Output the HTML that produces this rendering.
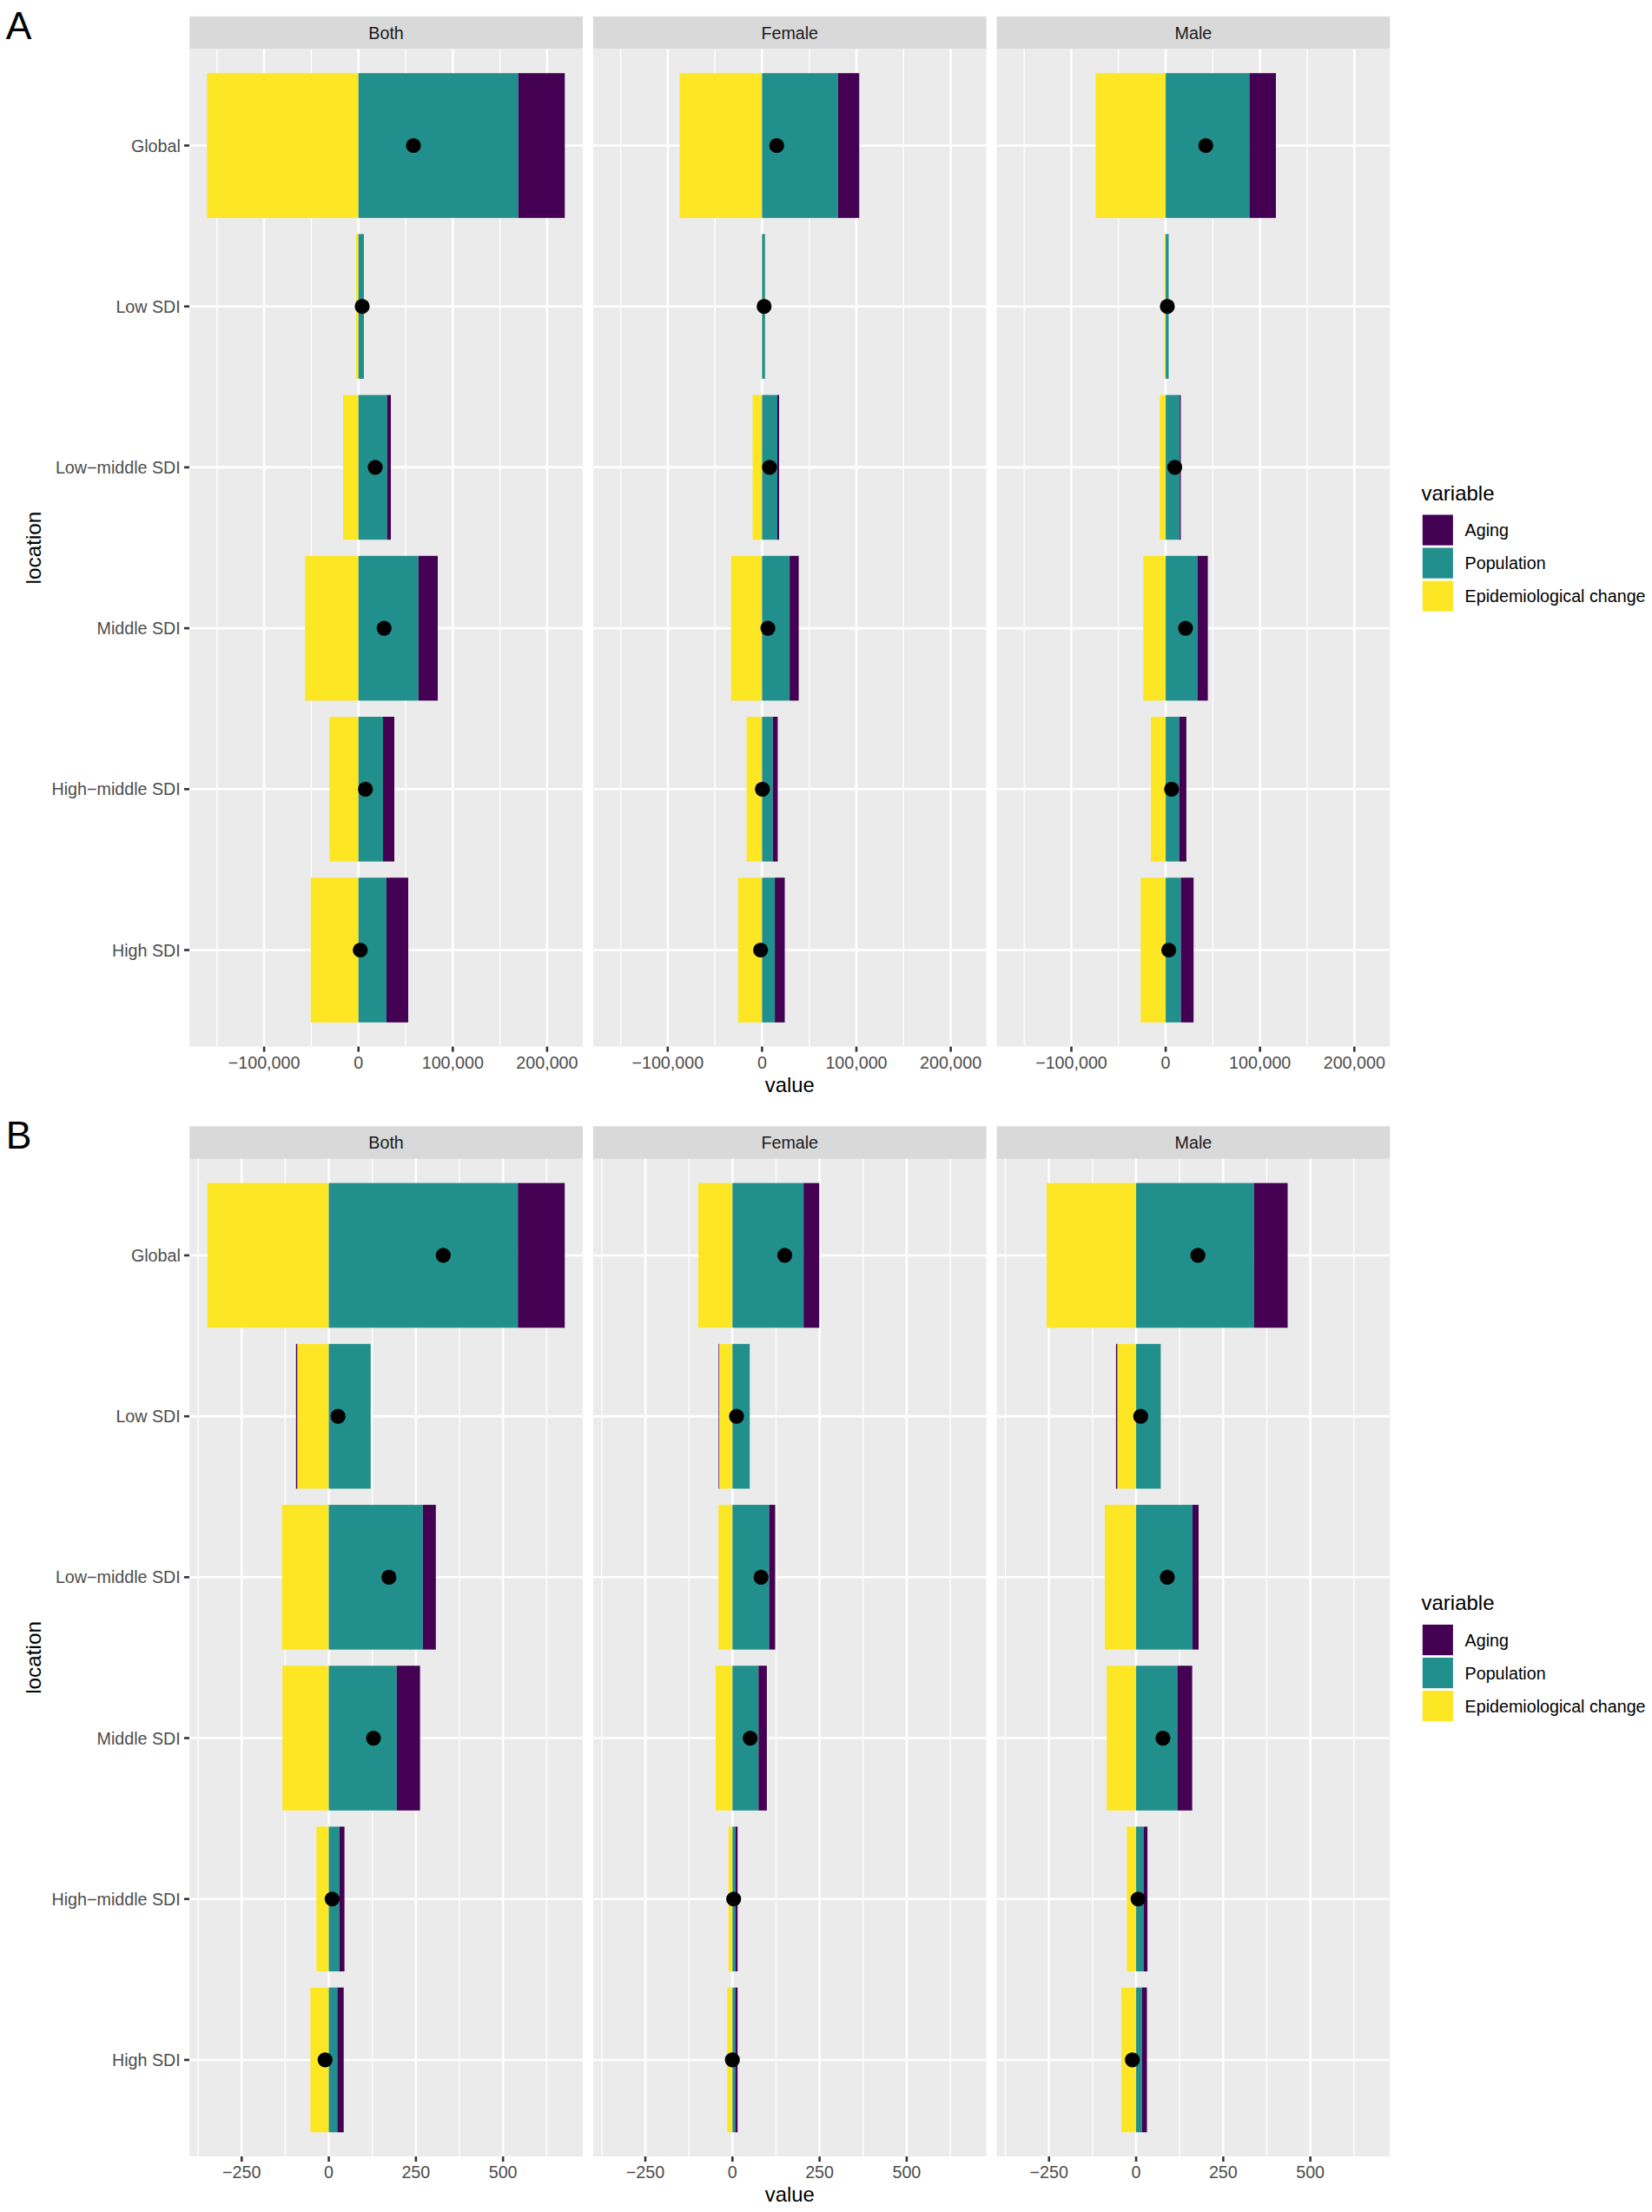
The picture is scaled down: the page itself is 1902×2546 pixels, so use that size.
<!DOCTYPE html>
<html lang="en"><head><meta charset="utf-8"><title>Figure</title>
<style>
html,body{margin:0;padding:0;background:#fff}
svg{display:block}
text{font-family:"Liberation Sans",Arial,Helvetica,sans-serif}
.ax{font-size:19.7px;fill:#4D4D4D}
.st{font-size:19.7px;fill:#1A1A1A}
.ti{font-size:23.8px;fill:#000}
.lg{font-size:19.7px;fill:#000}
.tag{font-size:44.5px;fill:#000}
</style></head>
<body>
<svg width="1902" height="2546" viewBox="0 0 1902 2546">
<rect x="0" y="0" width="1902" height="2546" fill="#fff"/>
<g>
<text class="tag" x="6.7" y="45">A</text>
<g>
<rect x="218.2" y="18.85" width="452.7" height="37.55" fill="#D9D9D9"/>
<text class="st" text-anchor="middle" x="444.55" y="44.75">Both</text>
<rect x="218.2" y="56.4" width="452.7" height="1148.2" fill="#EBEBEB"/>
<line x1="249.8" x2="249.8" y1="56.4" y2="1204.6" stroke="#fff" stroke-width="1.35"/>
<line x1="358.4" x2="358.4" y1="56.4" y2="1204.6" stroke="#fff" stroke-width="1.35"/>
<line x1="467" x2="467" y1="56.4" y2="1204.6" stroke="#fff" stroke-width="1.35"/>
<line x1="575.6" x2="575.6" y1="56.4" y2="1204.6" stroke="#fff" stroke-width="1.35"/>
<line x1="304.1" x2="304.1" y1="56.4" y2="1204.6" stroke="#fff" stroke-width="2.6"/>
<line x1="412.7" x2="412.7" y1="56.4" y2="1204.6" stroke="#fff" stroke-width="2.6"/>
<line x1="521.3" x2="521.3" y1="56.4" y2="1204.6" stroke="#fff" stroke-width="2.6"/>
<line x1="629.9" x2="629.9" y1="56.4" y2="1204.6" stroke="#fff" stroke-width="2.6"/>
<line x1="218.2" x2="670.9" y1="167.5" y2="167.5" stroke="#fff" stroke-width="2.6"/>
<line x1="218.2" x2="670.9" y1="352.7" y2="352.7" stroke="#fff" stroke-width="2.6"/>
<line x1="218.2" x2="670.9" y1="537.9" y2="537.9" stroke="#fff" stroke-width="2.6"/>
<line x1="218.2" x2="670.9" y1="723.1" y2="723.1" stroke="#fff" stroke-width="2.6"/>
<line x1="218.2" x2="670.9" y1="908.3" y2="908.3" stroke="#fff" stroke-width="2.6"/>
<line x1="218.2" x2="670.9" y1="1093.5" y2="1093.5" stroke="#fff" stroke-width="2.6"/>
<rect x="238.25" y="84.2" width="174.45" height="166.6" fill="#FDE725"/>
<rect x="412.7" y="84.2" width="184.05" height="166.6" fill="#21908C"/>
<rect x="596.75" y="84.2" width="53.5" height="166.6" fill="#440154"/>
<rect x="410" y="269.4" width="2.7" height="166.6" fill="#FDE725"/>
<rect x="412.7" y="269.4" width="6.3" height="166.6" fill="#21908C"/>
<rect x="395" y="454.6" width="17.7" height="166.6" fill="#FDE725"/>
<rect x="412.7" y="454.6" width="33.05" height="166.6" fill="#21908C"/>
<rect x="445.75" y="454.6" width="4.25" height="166.6" fill="#440154"/>
<rect x="351.25" y="639.8" width="61.45" height="166.6" fill="#FDE725"/>
<rect x="412.7" y="639.8" width="69.05" height="166.6" fill="#21908C"/>
<rect x="481.75" y="639.8" width="22.25" height="166.6" fill="#440154"/>
<rect x="379.25" y="825" width="33.45" height="166.6" fill="#FDE725"/>
<rect x="412.7" y="825" width="28.3" height="166.6" fill="#21908C"/>
<rect x="441" y="825" width="13" height="166.6" fill="#440154"/>
<rect x="357.75" y="1010.2" width="54.95" height="166.6" fill="#FDE725"/>
<rect x="412.7" y="1010.2" width="32.3" height="166.6" fill="#21908C"/>
<rect x="445" y="1010.2" width="25" height="166.6" fill="#440154"/>
<circle cx="476" cy="167.5" r="8.6" fill="#000"/>
<circle cx="417" cy="352.7" r="8.6" fill="#000"/>
<circle cx="432" cy="537.9" r="8.6" fill="#000"/>
<circle cx="442.25" cy="723.1" r="8.6" fill="#000"/>
<circle cx="420.75" cy="908.3" r="8.6" fill="#000"/>
<circle cx="414.75" cy="1093.5" r="8.6" fill="#000"/>
<line x1="304.1" x2="304.1" y1="1204.6" y2="1210.6" stroke="#333" stroke-width="2.6"/>
<text class="ax" text-anchor="middle" x="304.1" y="1229.6">−100,000</text>
<line x1="412.7" x2="412.7" y1="1204.6" y2="1210.6" stroke="#333" stroke-width="2.6"/>
<text class="ax" text-anchor="middle" x="412.7" y="1229.6">0</text>
<line x1="521.3" x2="521.3" y1="1204.6" y2="1210.6" stroke="#333" stroke-width="2.6"/>
<text class="ax" text-anchor="middle" x="521.3" y="1229.6">100,000</text>
<line x1="629.9" x2="629.9" y1="1204.6" y2="1210.6" stroke="#333" stroke-width="2.6"/>
<text class="ax" text-anchor="middle" x="629.9" y="1229.6">200,000</text>
</g>
<g>
<rect x="682.9" y="18.85" width="452.7" height="37.55" fill="#D9D9D9"/>
<text class="st" text-anchor="middle" x="909.25" y="44.75">Female</text>
<rect x="682.9" y="56.4" width="452.7" height="1148.2" fill="#EBEBEB"/>
<line x1="714.5" x2="714.5" y1="56.4" y2="1204.6" stroke="#fff" stroke-width="1.35"/>
<line x1="823.1" x2="823.1" y1="56.4" y2="1204.6" stroke="#fff" stroke-width="1.35"/>
<line x1="931.7" x2="931.7" y1="56.4" y2="1204.6" stroke="#fff" stroke-width="1.35"/>
<line x1="1040.3" x2="1040.3" y1="56.4" y2="1204.6" stroke="#fff" stroke-width="1.35"/>
<line x1="768.8" x2="768.8" y1="56.4" y2="1204.6" stroke="#fff" stroke-width="2.6"/>
<line x1="877.4" x2="877.4" y1="56.4" y2="1204.6" stroke="#fff" stroke-width="2.6"/>
<line x1="986" x2="986" y1="56.4" y2="1204.6" stroke="#fff" stroke-width="2.6"/>
<line x1="1094.6" x2="1094.6" y1="56.4" y2="1204.6" stroke="#fff" stroke-width="2.6"/>
<line x1="682.9" x2="1135.6" y1="167.5" y2="167.5" stroke="#fff" stroke-width="2.6"/>
<line x1="682.9" x2="1135.6" y1="352.7" y2="352.7" stroke="#fff" stroke-width="2.6"/>
<line x1="682.9" x2="1135.6" y1="537.9" y2="537.9" stroke="#fff" stroke-width="2.6"/>
<line x1="682.9" x2="1135.6" y1="723.1" y2="723.1" stroke="#fff" stroke-width="2.6"/>
<line x1="682.9" x2="1135.6" y1="908.3" y2="908.3" stroke="#fff" stroke-width="2.6"/>
<line x1="682.9" x2="1135.6" y1="1093.5" y2="1093.5" stroke="#fff" stroke-width="2.6"/>
<rect x="782.5" y="84.2" width="94.9" height="166.6" fill="#FDE725"/>
<rect x="877.4" y="84.2" width="87.35" height="166.6" fill="#21908C"/>
<rect x="964.75" y="84.2" width="24.5" height="166.6" fill="#440154"/>
<rect x="876.9" y="269.4" width="0.5" height="166.6" fill="#FDE725"/>
<rect x="877.4" y="269.4" width="3.35" height="166.6" fill="#21908C"/>
<rect x="866.5" y="454.6" width="10.9" height="166.6" fill="#FDE725"/>
<rect x="877.4" y="454.6" width="17.6" height="166.6" fill="#21908C"/>
<rect x="895" y="454.6" width="2" height="166.6" fill="#440154"/>
<rect x="841.7" y="639.8" width="35.7" height="166.6" fill="#FDE725"/>
<rect x="877.4" y="639.8" width="31.75" height="166.6" fill="#21908C"/>
<rect x="909.15" y="639.8" width="10.45" height="166.6" fill="#440154"/>
<rect x="859.6" y="825" width="17.8" height="166.6" fill="#FDE725"/>
<rect x="877.4" y="825" width="12.35" height="166.6" fill="#21908C"/>
<rect x="889.75" y="825" width="5.65" height="166.6" fill="#440154"/>
<rect x="849.8" y="1010.2" width="27.6" height="166.6" fill="#FDE725"/>
<rect x="877.4" y="1010.2" width="14.7" height="166.6" fill="#21908C"/>
<rect x="892.1" y="1010.2" width="11.4" height="166.6" fill="#440154"/>
<circle cx="894.25" cy="167.5" r="8.6" fill="#000"/>
<circle cx="879.75" cy="352.7" r="8.6" fill="#000"/>
<circle cx="886" cy="537.9" r="8.6" fill="#000"/>
<circle cx="884.1" cy="723.1" r="8.6" fill="#000"/>
<circle cx="877.8" cy="908.3" r="8.6" fill="#000"/>
<circle cx="875.7" cy="1093.5" r="8.6" fill="#000"/>
<line x1="768.8" x2="768.8" y1="1204.6" y2="1210.6" stroke="#333" stroke-width="2.6"/>
<text class="ax" text-anchor="middle" x="768.8" y="1229.6">−100,000</text>
<line x1="877.4" x2="877.4" y1="1204.6" y2="1210.6" stroke="#333" stroke-width="2.6"/>
<text class="ax" text-anchor="middle" x="877.4" y="1229.6">0</text>
<line x1="986" x2="986" y1="1204.6" y2="1210.6" stroke="#333" stroke-width="2.6"/>
<text class="ax" text-anchor="middle" x="986" y="1229.6">100,000</text>
<line x1="1094.6" x2="1094.6" y1="1204.6" y2="1210.6" stroke="#333" stroke-width="2.6"/>
<text class="ax" text-anchor="middle" x="1094.6" y="1229.6">200,000</text>
</g>
<g>
<rect x="1147.6" y="18.85" width="452.7" height="37.55" fill="#D9D9D9"/>
<text class="st" text-anchor="middle" x="1373.95" y="44.75">Male</text>
<rect x="1147.6" y="56.4" width="452.7" height="1148.2" fill="#EBEBEB"/>
<line x1="1179.2" x2="1179.2" y1="56.4" y2="1204.6" stroke="#fff" stroke-width="1.35"/>
<line x1="1287.8" x2="1287.8" y1="56.4" y2="1204.6" stroke="#fff" stroke-width="1.35"/>
<line x1="1396.4" x2="1396.4" y1="56.4" y2="1204.6" stroke="#fff" stroke-width="1.35"/>
<line x1="1505" x2="1505" y1="56.4" y2="1204.6" stroke="#fff" stroke-width="1.35"/>
<line x1="1233.5" x2="1233.5" y1="56.4" y2="1204.6" stroke="#fff" stroke-width="2.6"/>
<line x1="1342.1" x2="1342.1" y1="56.4" y2="1204.6" stroke="#fff" stroke-width="2.6"/>
<line x1="1450.7" x2="1450.7" y1="56.4" y2="1204.6" stroke="#fff" stroke-width="2.6"/>
<line x1="1559.3" x2="1559.3" y1="56.4" y2="1204.6" stroke="#fff" stroke-width="2.6"/>
<line x1="1147.6" x2="1600.3" y1="167.5" y2="167.5" stroke="#fff" stroke-width="2.6"/>
<line x1="1147.6" x2="1600.3" y1="352.7" y2="352.7" stroke="#fff" stroke-width="2.6"/>
<line x1="1147.6" x2="1600.3" y1="537.9" y2="537.9" stroke="#fff" stroke-width="2.6"/>
<line x1="1147.6" x2="1600.3" y1="723.1" y2="723.1" stroke="#fff" stroke-width="2.6"/>
<line x1="1147.6" x2="1600.3" y1="908.3" y2="908.3" stroke="#fff" stroke-width="2.6"/>
<line x1="1147.6" x2="1600.3" y1="1093.5" y2="1093.5" stroke="#fff" stroke-width="2.6"/>
<rect x="1261.5" y="84.2" width="80.6" height="166.6" fill="#FDE725"/>
<rect x="1342.1" y="84.2" width="96.4" height="166.6" fill="#21908C"/>
<rect x="1438.5" y="84.2" width="30.5" height="166.6" fill="#440154"/>
<rect x="1340.75" y="269.4" width="1.35" height="166.6" fill="#FDE725"/>
<rect x="1342.1" y="269.4" width="3.4" height="166.6" fill="#21908C"/>
<rect x="1335.25" y="454.6" width="6.85" height="166.6" fill="#FDE725"/>
<rect x="1342.1" y="454.6" width="16.15" height="166.6" fill="#21908C"/>
<rect x="1358.25" y="454.6" width="1.25" height="166.6" fill="#440154"/>
<rect x="1316.3" y="639.8" width="25.8" height="166.6" fill="#FDE725"/>
<rect x="1342.1" y="639.8" width="36.6" height="166.6" fill="#21908C"/>
<rect x="1378.7" y="639.8" width="11.9" height="166.6" fill="#440154"/>
<rect x="1325" y="825" width="17.1" height="166.6" fill="#FDE725"/>
<rect x="1342.1" y="825" width="15.7" height="166.6" fill="#21908C"/>
<rect x="1357.8" y="825" width="8.1" height="166.6" fill="#440154"/>
<rect x="1313.35" y="1010.2" width="28.75" height="166.6" fill="#FDE725"/>
<rect x="1342.1" y="1010.2" width="17.5" height="166.6" fill="#21908C"/>
<rect x="1359.6" y="1010.2" width="14.6" height="166.6" fill="#440154"/>
<circle cx="1388.25" cy="167.5" r="8.6" fill="#000"/>
<circle cx="1344" cy="352.7" r="8.6" fill="#000"/>
<circle cx="1352.5" cy="537.9" r="8.6" fill="#000"/>
<circle cx="1365" cy="723.1" r="8.6" fill="#000"/>
<circle cx="1348.9" cy="908.3" r="8.6" fill="#000"/>
<circle cx="1345.6" cy="1093.5" r="8.6" fill="#000"/>
<line x1="1233.5" x2="1233.5" y1="1204.6" y2="1210.6" stroke="#333" stroke-width="2.6"/>
<text class="ax" text-anchor="middle" x="1233.5" y="1229.6">−100,000</text>
<line x1="1342.1" x2="1342.1" y1="1204.6" y2="1210.6" stroke="#333" stroke-width="2.6"/>
<text class="ax" text-anchor="middle" x="1342.1" y="1229.6">0</text>
<line x1="1450.7" x2="1450.7" y1="1204.6" y2="1210.6" stroke="#333" stroke-width="2.6"/>
<text class="ax" text-anchor="middle" x="1450.7" y="1229.6">100,000</text>
<line x1="1559.3" x2="1559.3" y1="1204.6" y2="1210.6" stroke="#333" stroke-width="2.6"/>
<text class="ax" text-anchor="middle" x="1559.3" y="1229.6">200,000</text>
</g>
<line x1="212" x2="218" y1="167.5" y2="167.5" stroke="#333" stroke-width="2.6"/>
<text class="ax" text-anchor="end" x="207.8" y="174.5">Global</text>
<line x1="212" x2="218" y1="352.7" y2="352.7" stroke="#333" stroke-width="2.6"/>
<text class="ax" text-anchor="end" x="207.8" y="359.7">Low SDI</text>
<line x1="212" x2="218" y1="537.9" y2="537.9" stroke="#333" stroke-width="2.6"/>
<text class="ax" text-anchor="end" x="207.8" y="544.9">Low−middle SDI</text>
<line x1="212" x2="218" y1="723.1" y2="723.1" stroke="#333" stroke-width="2.6"/>
<text class="ax" text-anchor="end" x="207.8" y="730.1">Middle SDI</text>
<line x1="212" x2="218" y1="908.3" y2="908.3" stroke="#333" stroke-width="2.6"/>
<text class="ax" text-anchor="end" x="207.8" y="915.3">High−middle SDI</text>
<line x1="212" x2="218" y1="1093.5" y2="1093.5" stroke="#333" stroke-width="2.6"/>
<text class="ax" text-anchor="end" x="207.8" y="1100.5">High SDI</text>
<text class="ti" text-anchor="middle" x="909.3" y="1256.7">value</text>
<text class="ti" style="font-size:24.3px" text-anchor="middle" transform="translate(46.9,630.5) rotate(-90)">location</text>
<text class="ti" style="font-size:24px" x="1636.5" y="575.7">variable</text>
<rect x="1637.8" y="592.5" width="35.1" height="35.2" fill="#440154"/>
<text class="lg" x="1686.6" y="617.2">Aging</text>
<rect x="1637.8" y="630.5" width="35.1" height="35.2" fill="#21908C"/>
<text class="lg" x="1686.6" y="655.2">Population</text>
<rect x="1637.8" y="668.5" width="35.1" height="35.2" fill="#FDE725"/>
<text class="lg" x="1686.6" y="693.2">Epidemiological change</text>
</g>
<g>
<text class="tag" x="6.7" y="1322.15">B</text>
<g>
<rect x="218.2" y="1296.3" width="452.7" height="37.55" fill="#D9D9D9"/>
<text class="st" text-anchor="middle" x="444.55" y="1322.2">Both</text>
<rect x="218.2" y="1333.85" width="452.7" height="1148.2" fill="#EBEBEB"/>
<line x1="228.1" x2="228.1" y1="1333.85" y2="2482.05" stroke="#fff" stroke-width="1.35"/>
<line x1="328.4" x2="328.4" y1="1333.85" y2="2482.05" stroke="#fff" stroke-width="1.35"/>
<line x1="428.7" x2="428.7" y1="1333.85" y2="2482.05" stroke="#fff" stroke-width="1.35"/>
<line x1="529" x2="529" y1="1333.85" y2="2482.05" stroke="#fff" stroke-width="1.35"/>
<line x1="629.3" x2="629.3" y1="1333.85" y2="2482.05" stroke="#fff" stroke-width="1.35"/>
<line x1="278.25" x2="278.25" y1="1333.85" y2="2482.05" stroke="#fff" stroke-width="2.6"/>
<line x1="378.55" x2="378.55" y1="1333.85" y2="2482.05" stroke="#fff" stroke-width="2.6"/>
<line x1="478.85" x2="478.85" y1="1333.85" y2="2482.05" stroke="#fff" stroke-width="2.6"/>
<line x1="579.15" x2="579.15" y1="1333.85" y2="2482.05" stroke="#fff" stroke-width="2.6"/>
<line x1="218.2" x2="670.9" y1="1444.95" y2="1444.95" stroke="#fff" stroke-width="2.6"/>
<line x1="218.2" x2="670.9" y1="1630.15" y2="1630.15" stroke="#fff" stroke-width="2.6"/>
<line x1="218.2" x2="670.9" y1="1815.35" y2="1815.35" stroke="#fff" stroke-width="2.6"/>
<line x1="218.2" x2="670.9" y1="2000.55" y2="2000.55" stroke="#fff" stroke-width="2.6"/>
<line x1="218.2" x2="670.9" y1="2185.75" y2="2185.75" stroke="#fff" stroke-width="2.6"/>
<line x1="218.2" x2="670.9" y1="2370.95" y2="2370.95" stroke="#fff" stroke-width="2.6"/>
<rect x="238.7" y="1361.65" width="139.85" height="166.6" fill="#FDE725"/>
<rect x="378.55" y="1361.65" width="217.75" height="166.6" fill="#21908C"/>
<rect x="596.3" y="1361.65" width="53.9" height="166.6" fill="#440154"/>
<rect x="340.8" y="1546.85" width="1.7" height="166.6" fill="#440154"/>
<rect x="342.5" y="1546.85" width="36.05" height="166.6" fill="#FDE725"/>
<rect x="378.55" y="1546.85" width="48.15" height="166.6" fill="#21908C"/>
<rect x="324.8" y="1732.05" width="53.75" height="166.6" fill="#FDE725"/>
<rect x="378.55" y="1732.05" width="108.35" height="166.6" fill="#21908C"/>
<rect x="486.9" y="1732.05" width="14.9" height="166.6" fill="#440154"/>
<rect x="325.2" y="1917.25" width="53.35" height="166.6" fill="#FDE725"/>
<rect x="378.55" y="1917.25" width="78.25" height="166.6" fill="#21908C"/>
<rect x="456.8" y="1917.25" width="26.8" height="166.6" fill="#440154"/>
<rect x="364.3" y="2102.45" width="14.25" height="166.6" fill="#FDE725"/>
<rect x="378.55" y="2102.45" width="12.25" height="166.6" fill="#21908C"/>
<rect x="390.8" y="2102.45" width="5.8" height="166.6" fill="#440154"/>
<rect x="357.4" y="2287.65" width="21.15" height="166.6" fill="#FDE725"/>
<rect x="378.55" y="2287.65" width="9.85" height="166.6" fill="#21908C"/>
<rect x="388.4" y="2287.65" width="7.3" height="166.6" fill="#440154"/>
<circle cx="510.3" cy="1444.95" r="8.6" fill="#000"/>
<circle cx="389.2" cy="1630.15" r="8.6" fill="#000"/>
<circle cx="447.8" cy="1815.35" r="8.6" fill="#000"/>
<circle cx="430" cy="2000.55" r="8.6" fill="#000"/>
<circle cx="382.4" cy="2185.75" r="8.6" fill="#000"/>
<circle cx="374.3" cy="2370.95" r="8.6" fill="#000"/>
<line x1="278.25" x2="278.25" y1="2482.05" y2="2488.05" stroke="#333" stroke-width="2.6"/>
<text class="ax" text-anchor="middle" x="278.25" y="2507.05">−250</text>
<line x1="378.55" x2="378.55" y1="2482.05" y2="2488.05" stroke="#333" stroke-width="2.6"/>
<text class="ax" text-anchor="middle" x="378.55" y="2507.05">0</text>
<line x1="478.85" x2="478.85" y1="2482.05" y2="2488.05" stroke="#333" stroke-width="2.6"/>
<text class="ax" text-anchor="middle" x="478.85" y="2507.05">250</text>
<line x1="579.15" x2="579.15" y1="2482.05" y2="2488.05" stroke="#333" stroke-width="2.6"/>
<text class="ax" text-anchor="middle" x="579.15" y="2507.05">500</text>
</g>
<g>
<rect x="682.9" y="1296.3" width="452.7" height="37.55" fill="#D9D9D9"/>
<text class="st" text-anchor="middle" x="909.25" y="1322.2">Female</text>
<rect x="682.9" y="1333.85" width="452.7" height="1148.2" fill="#EBEBEB"/>
<line x1="692.85" x2="692.85" y1="1333.85" y2="2482.05" stroke="#fff" stroke-width="1.35"/>
<line x1="793.15" x2="793.15" y1="1333.85" y2="2482.05" stroke="#fff" stroke-width="1.35"/>
<line x1="893.45" x2="893.45" y1="1333.85" y2="2482.05" stroke="#fff" stroke-width="1.35"/>
<line x1="993.75" x2="993.75" y1="1333.85" y2="2482.05" stroke="#fff" stroke-width="1.35"/>
<line x1="1094.05" x2="1094.05" y1="1333.85" y2="2482.05" stroke="#fff" stroke-width="1.35"/>
<line x1="743" x2="743" y1="1333.85" y2="2482.05" stroke="#fff" stroke-width="2.6"/>
<line x1="843.3" x2="843.3" y1="1333.85" y2="2482.05" stroke="#fff" stroke-width="2.6"/>
<line x1="943.6" x2="943.6" y1="1333.85" y2="2482.05" stroke="#fff" stroke-width="2.6"/>
<line x1="1043.9" x2="1043.9" y1="1333.85" y2="2482.05" stroke="#fff" stroke-width="2.6"/>
<line x1="682.9" x2="1135.6" y1="1444.95" y2="1444.95" stroke="#fff" stroke-width="2.6"/>
<line x1="682.9" x2="1135.6" y1="1630.15" y2="1630.15" stroke="#fff" stroke-width="2.6"/>
<line x1="682.9" x2="1135.6" y1="1815.35" y2="1815.35" stroke="#fff" stroke-width="2.6"/>
<line x1="682.9" x2="1135.6" y1="2000.55" y2="2000.55" stroke="#fff" stroke-width="2.6"/>
<line x1="682.9" x2="1135.6" y1="2185.75" y2="2185.75" stroke="#fff" stroke-width="2.6"/>
<line x1="682.9" x2="1135.6" y1="2370.95" y2="2370.95" stroke="#fff" stroke-width="2.6"/>
<rect x="803.85" y="1361.65" width="39.45" height="166.6" fill="#FDE725"/>
<rect x="843.3" y="1361.65" width="81.9" height="166.6" fill="#21908C"/>
<rect x="925.2" y="1361.65" width="18" height="166.6" fill="#440154"/>
<rect x="827.4" y="1546.85" width="0.9" height="166.6" fill="#440154"/>
<rect x="828.3" y="1546.85" width="15" height="166.6" fill="#FDE725"/>
<rect x="843.3" y="1546.85" width="19.9" height="166.6" fill="#21908C"/>
<rect x="827.2" y="1732.05" width="16.1" height="166.6" fill="#FDE725"/>
<rect x="843.3" y="1732.05" width="42.2" height="166.6" fill="#21908C"/>
<rect x="885.5" y="1732.05" width="7" height="166.6" fill="#440154"/>
<rect x="823.9" y="1917.25" width="19.4" height="166.6" fill="#FDE725"/>
<rect x="843.3" y="1917.25" width="30" height="166.6" fill="#21908C"/>
<rect x="873.3" y="1917.25" width="9.6" height="166.6" fill="#440154"/>
<rect x="838.7" y="2102.45" width="4.6" height="166.6" fill="#FDE725"/>
<rect x="843.3" y="2102.45" width="3.5" height="166.6" fill="#21908C"/>
<rect x="846.8" y="2102.45" width="2.4" height="166.6" fill="#440154"/>
<rect x="837.2" y="2287.65" width="6.1" height="166.6" fill="#FDE725"/>
<rect x="843.3" y="2287.65" width="3.2" height="166.6" fill="#21908C"/>
<rect x="846.5" y="2287.65" width="2.7" height="166.6" fill="#440154"/>
<circle cx="903.5" cy="1444.95" r="8.6" fill="#000"/>
<circle cx="848" cy="1630.15" r="8.6" fill="#000"/>
<circle cx="876.2" cy="1815.35" r="8.6" fill="#000"/>
<circle cx="863.7" cy="2000.55" r="8.6" fill="#000"/>
<circle cx="844.7" cy="2185.75" r="8.6" fill="#000"/>
<circle cx="843.2" cy="2370.95" r="8.6" fill="#000"/>
<line x1="743" x2="743" y1="2482.05" y2="2488.05" stroke="#333" stroke-width="2.6"/>
<text class="ax" text-anchor="middle" x="743" y="2507.05">−250</text>
<line x1="843.3" x2="843.3" y1="2482.05" y2="2488.05" stroke="#333" stroke-width="2.6"/>
<text class="ax" text-anchor="middle" x="843.3" y="2507.05">0</text>
<line x1="943.6" x2="943.6" y1="2482.05" y2="2488.05" stroke="#333" stroke-width="2.6"/>
<text class="ax" text-anchor="middle" x="943.6" y="2507.05">250</text>
<line x1="1043.9" x2="1043.9" y1="2482.05" y2="2488.05" stroke="#333" stroke-width="2.6"/>
<text class="ax" text-anchor="middle" x="1043.9" y="2507.05">500</text>
</g>
<g>
<rect x="1147.6" y="1296.3" width="452.7" height="37.55" fill="#D9D9D9"/>
<text class="st" text-anchor="middle" x="1373.95" y="1322.2">Male</text>
<rect x="1147.6" y="1333.85" width="452.7" height="1148.2" fill="#EBEBEB"/>
<line x1="1157.6" x2="1157.6" y1="1333.85" y2="2482.05" stroke="#fff" stroke-width="1.35"/>
<line x1="1257.9" x2="1257.9" y1="1333.85" y2="2482.05" stroke="#fff" stroke-width="1.35"/>
<line x1="1358.2" x2="1358.2" y1="1333.85" y2="2482.05" stroke="#fff" stroke-width="1.35"/>
<line x1="1458.5" x2="1458.5" y1="1333.85" y2="2482.05" stroke="#fff" stroke-width="1.35"/>
<line x1="1558.8" x2="1558.8" y1="1333.85" y2="2482.05" stroke="#fff" stroke-width="1.35"/>
<line x1="1207.75" x2="1207.75" y1="1333.85" y2="2482.05" stroke="#fff" stroke-width="2.6"/>
<line x1="1308.05" x2="1308.05" y1="1333.85" y2="2482.05" stroke="#fff" stroke-width="2.6"/>
<line x1="1408.35" x2="1408.35" y1="1333.85" y2="2482.05" stroke="#fff" stroke-width="2.6"/>
<line x1="1508.65" x2="1508.65" y1="1333.85" y2="2482.05" stroke="#fff" stroke-width="2.6"/>
<line x1="1147.6" x2="1600.3" y1="1444.95" y2="1444.95" stroke="#fff" stroke-width="2.6"/>
<line x1="1147.6" x2="1600.3" y1="1630.15" y2="1630.15" stroke="#fff" stroke-width="2.6"/>
<line x1="1147.6" x2="1600.3" y1="1815.35" y2="1815.35" stroke="#fff" stroke-width="2.6"/>
<line x1="1147.6" x2="1600.3" y1="2000.55" y2="2000.55" stroke="#fff" stroke-width="2.6"/>
<line x1="1147.6" x2="1600.3" y1="2185.75" y2="2185.75" stroke="#fff" stroke-width="2.6"/>
<line x1="1147.6" x2="1600.3" y1="2370.95" y2="2370.95" stroke="#fff" stroke-width="2.6"/>
<rect x="1204.95" y="1361.65" width="103.1" height="166.6" fill="#FDE725"/>
<rect x="1308.05" y="1361.65" width="135.6" height="166.6" fill="#21908C"/>
<rect x="1443.65" y="1361.65" width="38.85" height="166.6" fill="#440154"/>
<rect x="1284.9" y="1546.85" width="1.7" height="166.6" fill="#440154"/>
<rect x="1286.6" y="1546.85" width="21.45" height="166.6" fill="#FDE725"/>
<rect x="1308.05" y="1546.85" width="28.35" height="166.6" fill="#21908C"/>
<rect x="1271.95" y="1732.05" width="36.1" height="166.6" fill="#FDE725"/>
<rect x="1308.05" y="1732.05" width="64.95" height="166.6" fill="#21908C"/>
<rect x="1373" y="1732.05" width="7" height="166.6" fill="#440154"/>
<rect x="1274.2" y="1917.25" width="33.85" height="166.6" fill="#FDE725"/>
<rect x="1308.05" y="1917.25" width="47.45" height="166.6" fill="#21908C"/>
<rect x="1355.5" y="1917.25" width="17.1" height="166.6" fill="#440154"/>
<rect x="1297.35" y="2102.45" width="10.7" height="166.6" fill="#FDE725"/>
<rect x="1308.05" y="2102.45" width="8.55" height="166.6" fill="#21908C"/>
<rect x="1316.6" y="2102.45" width="4.5" height="166.6" fill="#440154"/>
<rect x="1291" y="2287.65" width="17.05" height="166.6" fill="#FDE725"/>
<rect x="1308.05" y="2287.65" width="6.75" height="166.6" fill="#21908C"/>
<rect x="1314.8" y="2287.65" width="5.7" height="166.6" fill="#440154"/>
<circle cx="1379.2" cy="1444.95" r="8.6" fill="#000"/>
<circle cx="1313.3" cy="1630.15" r="8.6" fill="#000"/>
<circle cx="1344" cy="1815.35" r="8.6" fill="#000"/>
<circle cx="1338.9" cy="2000.55" r="8.6" fill="#000"/>
<circle cx="1310.3" cy="2185.75" r="8.6" fill="#000"/>
<circle cx="1303.7" cy="2370.95" r="8.6" fill="#000"/>
<line x1="1207.75" x2="1207.75" y1="2482.05" y2="2488.05" stroke="#333" stroke-width="2.6"/>
<text class="ax" text-anchor="middle" x="1207.75" y="2507.05">−250</text>
<line x1="1308.05" x2="1308.05" y1="2482.05" y2="2488.05" stroke="#333" stroke-width="2.6"/>
<text class="ax" text-anchor="middle" x="1308.05" y="2507.05">0</text>
<line x1="1408.35" x2="1408.35" y1="2482.05" y2="2488.05" stroke="#333" stroke-width="2.6"/>
<text class="ax" text-anchor="middle" x="1408.35" y="2507.05">250</text>
<line x1="1508.65" x2="1508.65" y1="2482.05" y2="2488.05" stroke="#333" stroke-width="2.6"/>
<text class="ax" text-anchor="middle" x="1508.65" y="2507.05">500</text>
</g>
<line x1="212" x2="218" y1="1444.95" y2="1444.95" stroke="#333" stroke-width="2.6"/>
<text class="ax" text-anchor="end" x="207.8" y="1451.95">Global</text>
<line x1="212" x2="218" y1="1630.15" y2="1630.15" stroke="#333" stroke-width="2.6"/>
<text class="ax" text-anchor="end" x="207.8" y="1637.15">Low SDI</text>
<line x1="212" x2="218" y1="1815.35" y2="1815.35" stroke="#333" stroke-width="2.6"/>
<text class="ax" text-anchor="end" x="207.8" y="1822.35">Low−middle SDI</text>
<line x1="212" x2="218" y1="2000.55" y2="2000.55" stroke="#333" stroke-width="2.6"/>
<text class="ax" text-anchor="end" x="207.8" y="2007.55">Middle SDI</text>
<line x1="212" x2="218" y1="2185.75" y2="2185.75" stroke="#333" stroke-width="2.6"/>
<text class="ax" text-anchor="end" x="207.8" y="2192.75">High−middle SDI</text>
<line x1="212" x2="218" y1="2370.95" y2="2370.95" stroke="#333" stroke-width="2.6"/>
<text class="ax" text-anchor="end" x="207.8" y="2377.95">High SDI</text>
<text class="ti" text-anchor="middle" x="909.3" y="2534.15">value</text>
<text class="ti" style="font-size:24.3px" text-anchor="middle" transform="translate(46.9,1907.95) rotate(-90)">location</text>
<text class="ti" style="font-size:24px" x="1636.5" y="1853.15">variable</text>
<rect x="1637.8" y="1869.95" width="35.1" height="35.2" fill="#440154"/>
<text class="lg" x="1686.6" y="1894.65">Aging</text>
<rect x="1637.8" y="1907.95" width="35.1" height="35.2" fill="#21908C"/>
<text class="lg" x="1686.6" y="1932.65">Population</text>
<rect x="1637.8" y="1945.95" width="35.1" height="35.2" fill="#FDE725"/>
<text class="lg" x="1686.6" y="1970.65">Epidemiological change</text>
</g>
</svg>
</body></html>
